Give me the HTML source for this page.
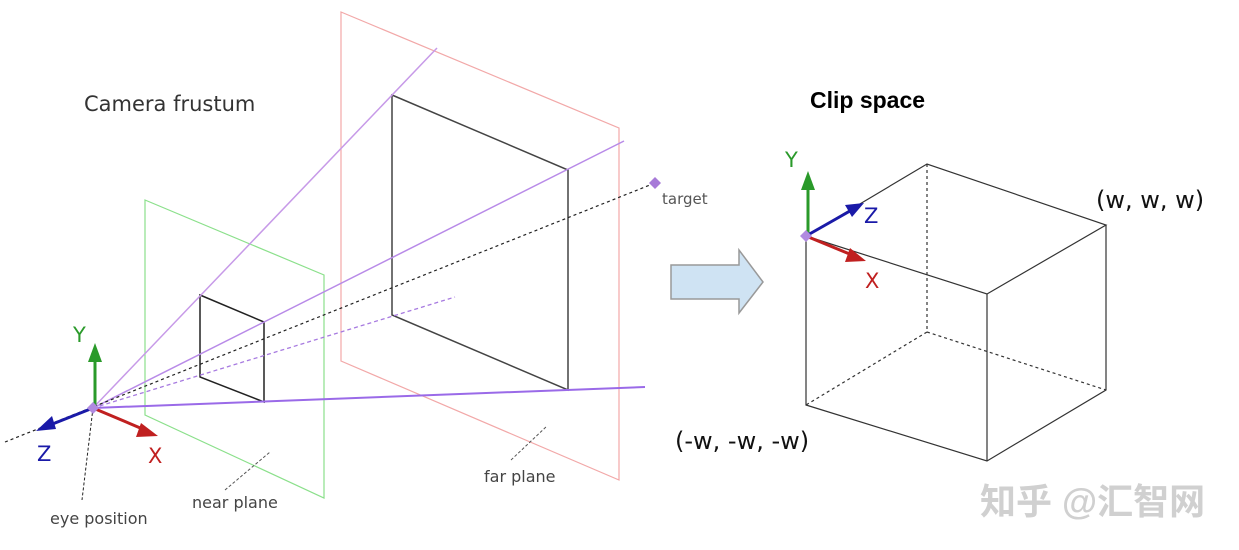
<!DOCTYPE html>
<html><head><meta charset="utf-8"><style>
html,body{margin:0;padding:0;background:#fff;width:1239px;height:550px;overflow:hidden}
svg{display:block}
</style></head><body>
<svg width="1239" height="550" viewBox="0 0 1239 550" xmlns="http://www.w3.org/2000/svg" font-family="'DejaVu Sans','Liberation Sans',sans-serif">
<!-- far plane -->
<polygon points="341,12 619,128 619,480 341,361" fill="none" stroke="#f2a8a8" stroke-width="1.2"/>
<!-- near plane -->
<polygon points="145,200 324,275 324,498 145,415" fill="none" stroke="#8be08b" stroke-width="1.2"/>
<!-- far rect -->
<polygon points="392,95 568,170 568,390 392,315" fill="none" stroke="#444" stroke-width="1.5"/>
<!-- near rect -->
<polygon points="200,295 264,322 264,402 200,377" fill="none" stroke="#222" stroke-width="1.5"/>
<!-- purple lines -->
<line x1="93" y1="408" x2="437" y2="48" stroke="#c79ae8" stroke-width="1.5"/>
<line x1="93" y1="408" x2="624" y2="141" stroke="#b88ae8" stroke-width="1.5"/>
<line x1="93" y1="408" x2="645" y2="387" stroke="#9a6ae8" stroke-width="2"/>
<line x1="93" y1="408" x2="455" y2="297" stroke="#a77ae0" stroke-width="1.3" stroke-dasharray="4,3"/>
<line x1="5" y1="442" x2="655" y2="183" stroke="#222" stroke-width="1.2" stroke-dasharray="3,3"/>
<polygon points="655,177 661,183 655,189 649,183" fill="#a77ad8"/>
<text x="662" y="204" font-size="15" fill="#555">target</text>
<!-- leaders -->
<line x1="93" y1="408" x2="82" y2="500" stroke="#222" stroke-width="1" stroke-dasharray="3,2"/>
<line x1="225" y1="490" x2="270" y2="452" stroke="#555" stroke-width="1" stroke-dasharray="3,2"/>
<line x1="511" y1="460" x2="547" y2="426" stroke="#555" stroke-width="1" stroke-dasharray="3,2"/>
<!-- axes left -->
<line x1="95" y1="405" x2="95" y2="358" stroke="#2a9a2a" stroke-width="3"/>
<polygon points="95,343 88,362 102,362" fill="#2a9a2a"/>
<text x="73" y="342" font-size="21" fill="#2a9a2a">Y</text>
<line x1="93" y1="408" x2="50" y2="425" stroke="#1a1aa8" stroke-width="3"/>
<polygon points="36,431 52,416 56,429" fill="#1a1aa8"/>
<text x="37" y="461" font-size="21" fill="#1a1aa8">Z</text>
<line x1="93" y1="408" x2="145" y2="430" stroke="#c02020" stroke-width="3"/>
<polygon points="158,436 141,423 136,437" fill="#c02020"/>
<text x="148" y="463" font-size="21" fill="#c02020">X</text>
<polygon points="93,402 99,408 93,414 87,408" fill="#b08ae0"/>
<text x="50" y="524" font-size="16" fill="#444">eye position</text>
<text x="192" y="508" font-size="16" fill="#444">near plane</text>
<text x="484" y="482" font-size="16" fill="#444">far plane</text>
<text x="84" y="111" font-size="21" fill="#333">Camera frustum</text>
<!-- block arrow -->
<polygon points="671,265 739,265 739,250 763,282 739,313 739,299 671,299" fill="#cfe3f3" stroke="#999" stroke-width="1.5"/>
<!-- cube -->
<g stroke="#333" stroke-width="1.2" fill="none">
<polyline points="806,236 927,164 1106,225 987,294 806,236 806,405 987,461 1106,390 1106,225"/>
<line x1="987" y1="294" x2="987" y2="461"/>
</g>
<g stroke="#333" stroke-width="1.2" fill="none" stroke-dasharray="3,3">
<line x1="927" y1="164" x2="927" y2="332"/>
<line x1="927" y1="332" x2="806" y2="405"/>
<line x1="927" y1="332" x2="1106" y2="390"/>
</g>
<!-- axes right -->
<line x1="808" y1="234" x2="808" y2="186" stroke="#2a9a2a" stroke-width="3"/>
<polygon points="808,171 801,190 815,190" fill="#2a9a2a"/>
<text x="785" y="167" font-size="21" fill="#2a9a2a">Y</text>
<line x1="806" y1="236" x2="850" y2="211" stroke="#1a1aa8" stroke-width="3"/>
<polygon points="864,203 845,205 852,217" fill="#1a1aa8"/>
<text x="864" y="223" font-size="21" fill="#1a1aa8">Z</text>
<line x1="806" y1="236" x2="852" y2="255" stroke="#c02020" stroke-width="3"/>
<polygon points="866,261 850,248 845,262" fill="#c02020"/>
<text x="865" y="288" font-size="21" fill="#c02020">X</text>
<polygon points="806,230 812,236 806,242 800,236" fill="#b08ae0"/>
<text x="810" y="108" font-size="23" font-weight="bold" fill="#000" font-family="'Liberation Sans',sans-serif">Clip space</text>
<text x="1096" y="208" font-size="24" fill="#111">(w, w, w)</text>
<text x="675" y="449" font-size="24" fill="#111">(-w, -w, -w)</text>
<text x="980" y="514" font-size="36" fill="#d0d0d0" font-family="'Liberation Sans','Noto Sans CJK SC',sans-serif" font-weight="bold">知乎 @汇智网</text>
</svg>
</body></html>
